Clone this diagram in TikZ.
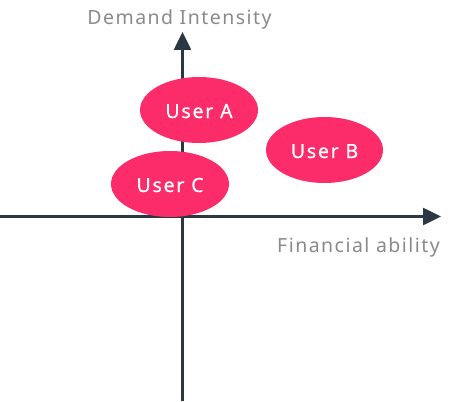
\documentclass[tikz,border=0pt]{standalone}
\usepackage{fontspec}
\setmainfont{Noto Sans}
\newfontfamily\labelfont[LetterSpace=7.5]{Noto Sans}
\newfontfamily\userfont[LetterSpace=9,FakeBold=0.6]{Noto Sans}
\usetikzlibrary{shapes.geometric,arrows.meta}
\definecolor{axiscol}{RGB}{44,55,68}
\definecolor{usercol}{RGB}{252,44,106}
\definecolor{labelcol}{RGB}{138,138,138}
\tikzset{
  axis/.style={draw=axiscol, line width=2.6pt, -{Triangle[length=18pt,width=17pt]}},
  user/.style={ellipse, fill=usercol, draw=none, inner sep=0pt,
    text=white, font=\userfont\fontsize{19.5}{19.5}\selectfont,
    text height=16pt, text depth=0pt},
  axislabel/.style={text=labelcol, font=\labelfont\fontsize{19.5}{19.5}\selectfont, anchor=base, inner sep=0pt}
}
\begin{document}
\begin{tikzpicture}[x=1pt,y=-1pt]
\useasboundingbox (0,0) rectangle (454,401);
\coordinate (ybot) at (182.5,401);
\coordinate (ytop) at (182.5,32);
\coordinate (xleft) at (0,216.5);
\coordinate (xright) at (441,216.5);
\draw[axis] (ybot) -- (ytop);
\draw[axis] (xleft) -- (xright);
\node[user, minimum width=118pt, minimum height=66pt] (ua) at (199,110) {User A};
\node[user, minimum width=117pt, minimum height=66pt] (ub) at (324.5,150) {User B};
\node[user, minimum width=118pt, minimum height=66pt] (uc) at (170,184) {User C};
\node[axislabel] (ylab) at (179.5,25) {Demand Intensity};
\node[axislabel] (xlab) at (358.5,252) {Financial ability};
\end{tikzpicture}
\end{document}
